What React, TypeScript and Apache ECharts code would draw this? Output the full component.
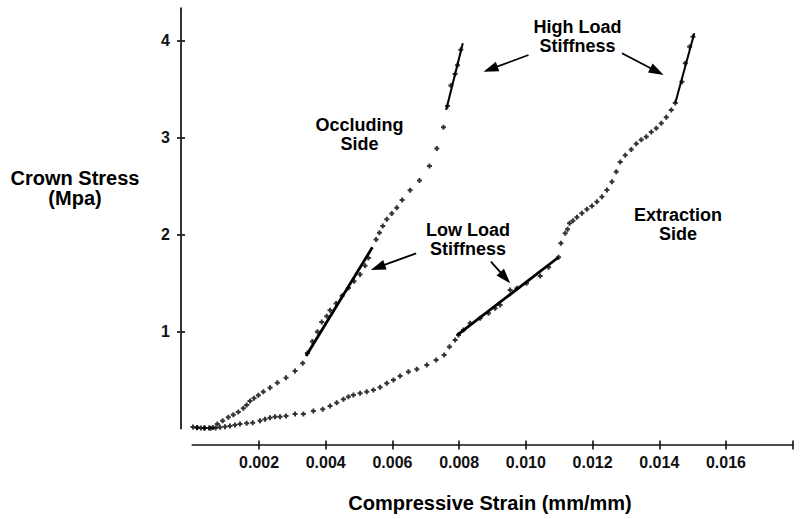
import React, { useEffect, useRef } from "react";
import * as echarts from "echarts";

// ---- data (strain in mm/mm, stress in MPa) ----
const occludingStrain = [0.00002, 0.00014, 0.00026, 0.00038, 0.0005, 0.00062, 0.00075, 0.00091, 0.00108, 0.00123, 0.00138, 0.00153, 0.00163, 0.00173, 0.00185, 0.00198, 0.00213, 0.00233, 0.00255, 0.00281, 0.00308, 0.00331, 0.00345, 0.0036, 0.00375, 0.00388, 0.00403, 0.00413, 0.00431, 0.00449, 0.00468, 0.00485, 0.00503, 0.00518, 0.00528, 0.00551, 0.00561, 0.00571, 0.00583, 0.00598, 0.00613, 0.00629, 0.00653, 0.00681, 0.00711, 0.00733, 0.00753, 0.00765, 0.00775, 0.00788, 0.00795, 0.00805];
const occludingStress = [0.017, 0.01, 0.006, 0.006, 0.006, 0.011, 0.047, 0.082, 0.117, 0.143, 0.171, 0.209, 0.244, 0.285, 0.313, 0.344, 0.381, 0.422, 0.474, 0.525, 0.594, 0.674, 0.78, 0.9, 1.0, 1.1, 1.16, 1.22, 1.29, 1.37, 1.45, 1.52, 1.59, 1.68, 1.76, 1.95, 2.02, 2.09, 2.16, 2.22, 2.28, 2.36, 2.46, 2.56, 2.71, 2.89, 3.11, 3.33, 3.54, 3.66, 3.75, 3.91];

const extractionStrain = [0.00015, 0.00035, 0.00055, 0.0007, 0.00083, 0.00098, 0.00113, 0.00128, 0.00143, 0.00163, 0.00181, 0.00203, 0.00218, 0.00233, 0.00248, 0.00263, 0.00281, 0.00308, 0.00333, 0.00363, 0.00391, 0.00413, 0.00433, 0.00453, 0.00468, 0.00483, 0.00503, 0.00523, 0.00543, 0.00563, 0.00583, 0.00603, 0.00623, 0.00648, 0.00673, 0.00703, 0.00731, 0.00755, 0.00771, 0.00788, 0.00798, 0.00813, 0.00833, 0.00863, 0.00888, 0.00908, 0.00923, 0.00953, 0.00973, 0.01002, 0.01043, 0.01068, 0.01098, 0.01105, 0.01118, 0.01125, 0.01131, 0.01141, 0.01153, 0.01168, 0.01183, 0.01198, 0.01213, 0.01228, 0.01243, 0.01258, 0.01271, 0.01283, 0.01298, 0.01316, 0.01331, 0.01346, 0.01361, 0.01376, 0.01391, 0.01406, 0.01421, 0.01436, 0.01448, 0.01468, 0.01478, 0.01491, 0.01501];
const extractionStress = [0.012, 0.006, 0.004, 0.006, 0.013, 0.02, 0.027, 0.037, 0.047, 0.055, 0.061, 0.082, 0.096, 0.112, 0.123, 0.123, 0.13, 0.151, 0.151, 0.182, 0.199, 0.233, 0.267, 0.302, 0.329, 0.347, 0.364, 0.381, 0.398, 0.426, 0.467, 0.502, 0.543, 0.587, 0.612, 0.656, 0.708, 0.759, 0.845, 0.914, 0.966, 1.018, 1.087, 1.138, 1.19, 1.241, 1.276, 1.43, 1.448, 1.5, 1.575, 1.665, 1.768, 1.912, 2.015, 2.057, 2.119, 2.146, 2.181, 2.222, 2.263, 2.297, 2.342, 2.393, 2.462, 2.548, 2.65, 2.75, 2.82, 2.88, 2.94, 2.98, 3.012, 3.06, 3.099, 3.15, 3.213, 3.288, 3.36, 3.58, 3.77, 3.94, 4.044];

// stiffness fit lines [x1, y1, x2, y2]
const occludingLowLoad = [0.00341, 0.749, 0.0054, 1.871];
const occludingHighLoad = [0.00761, 3.288, 0.00811, 3.976];
const extractionLowLoad = [0.00795, 0.966, 0.01098, 1.768];
const extractionHighLoad = [0.01448, 3.36, 0.01505, 4.08];

// annotation arrows [tailX, tailY, tipX, tipY]
const arrows = [
  [0.00671, 1.809, 0.005352, 1.637],
  [0.008953, 1.722, 0.009532, 1.4995],
  [0.01008, 3.855, 0.00873, 3.683],
  [0.012883, 3.873, 0.014131, 3.649],
];

const xTickMarks = [0.002, 0.004, 0.006, 0.008, 0.01, 0.012, 0.014, 0.016, 0.018];
const xTickLabels = [0.002, 0.004, 0.006, 0.008, 0.01, 0.012, 0.014, 0.016];
const yTickValues = [1, 2, 3, 4];

const FONT = "'Liberation Sans', Arial, Helvetica, sans-serif";
const NARROW = "'Liberation Sans Narrow', 'Liberation Sans', Arial, sans-serif";
const PLUS = "path://M1.5,0H3.5V1.5H5V3.5H3.5V5H1.5V3.5H0V1.5H1.5Z";

const zip = (a: number[], b: number[]) => a.map((v, i) => [v, b[i]]);
const seg = (s: number[]) => [[s[0], s[1]], [s[2], s[3]]];

export default function App() {
  const ref = useRef<HTMLDivElement>(null);
  useEffect(() => {
    if (!ref.current) return;
    const chart = echarts.init(ref.current, undefined, { renderer: "svg" });
    const xMin = 0, xMax = 0.018, yMin = 0, yMax = 4.337;
    const fitLine = (s: number[], w = 2.8) => ({
      type: "line",
      data: seg(s),
      showSymbol: false,
      symbol: "none",
      z: 3,
      lineStyle: { color: "#000", width: w },
    });
    const text = (t: string, x: number, y: number, size: number, lh: number) => ({
      type: "text",
      x,
      y,
      style: {
        text: t,
        fontFamily: FONT,
        fontWeight: "bold",
        fontSize: size,
        lineHeight: lh,
        fill: "#000",
        align: "center",
        verticalAlign: "middle",
      },
    });
    const tickLabel = {
      fontFamily: NARROW,
      fontWeight: "bold",
      fontSize: 16,
      color: "#111",
    };
    chart.setOption({
      animation: false,
      backgroundColor: "#fff",
      grid: { left: 192.3, right: 7.3, top: 8.3, bottom: 90.4 },
      xAxis: [
        {
          type: "value",
          min: xMin,
          max: xMax,
          interval: 0.002,
          offset: 16.4,
          axisLine: { show: true, onZero: false, lineStyle: { color: "#111", width: 1.6 } },
          axisTick: { show: true, length: 4.5, customValues: xTickMarks, lineStyle: { color: "#111", width: 1.6 } },
          axisLabel: {
            customValues: xTickLabels,
            formatter: (v: number) => v.toFixed(3),
            margin: 9,
            ...tickLabel,
          },
          splitLine: { show: false },
        },
        {
          type: "value",
          min: xMin,
          max: xMax,
          interval: 0.002,
          position: "bottom",
          offset: 16.4,
          axisLine: { show: false, onZero: false },
          axisTick: { show: true, inside: true, length: 4.5, customValues: xTickMarks, lineStyle: { color: "#111", width: 1.6 } },
          axisLabel: { show: false },
          splitLine: { show: false },
        },
      ],
      yAxis: [
        {
          type: "value",
          min: yMin,
          max: yMax,
          interval: 1,
          offset: 11.3,
          axisLine: { show: true, onZero: false, lineStyle: { color: "#333", width: 2 } },
          axisTick: { show: true, length: 4, customValues: yTickValues, lineStyle: { color: "#222", width: 1.8 } },
          axisLabel: {
            customValues: yTickValues,
            margin: 11,
            ...tickLabel,
          },
          splitLine: { show: false },
        },
        {
          type: "value",
          min: yMin,
          max: yMax,
          interval: 1,
          position: "left",
          offset: 11.3,
          axisLine: { show: false, onZero: false },
          axisTick: { show: true, inside: true, length: 4, customValues: yTickValues, lineStyle: { color: "#222", width: 1.8 } },
          axisLabel: { show: false },
          splitLine: { show: false },
        },
      ],
      series: [
        {
          type: "scatter",
          data: zip(occludingStrain, occludingStress),
          symbol: PLUS,
          symbolSize: 5,
          itemStyle: { color: "#000" },
          z: 2,
        },
        {
          type: "scatter",
          data: zip(extractionStrain, extractionStress),
          symbol: PLUS,
          symbolSize: 5,
          itemStyle: { color: "#000" },
          z: 2,
        },
        fitLine(occludingLowLoad),
        fitLine(occludingHighLoad, 2),
        fitLine(extractionLowLoad),
        fitLine(extractionHighLoad, 2),
        {
          type: "custom",
          data: arrows,
          encode: { x: [0, 2], y: [1, 3] },
          z: 4,
          renderItem: (_p: any, api: any) => {
            const a = api.coord([api.value(0), api.value(1)]);
            const b = api.coord([api.value(2), api.value(3)]);
            const dx = b[0] - a[0], dy = b[1] - a[1];
            const len = Math.sqrt(dx * dx + dy * dy);
            const ux = dx / len, uy = dy / len;
            const hl = 15, hw = 10;
            const bx = b[0] - ux * hl, by = b[1] - uy * hl;
            const nx = -uy, ny = ux;
            return {
              type: "group",
              children: [
                {
                  type: "line",
                  shape: { x1: a[0], y1: a[1], x2: bx + ux * 2, y2: by + uy * 2 },
                  style: { stroke: "#000", lineWidth: 1.8 },
                },
                {
                  type: "polygon",
                  shape: {
                    points: [
                      [b[0], b[1]],
                      [bx + nx * hw / 2, by + ny * hw / 2],
                      [bx - nx * hw / 2, by - ny * hw / 2],
                    ],
                  },
                  style: { fill: "#000" },
                },
              ],
            };
          },
        },
      ],
      graphic: [
        text("Crown Stress\n(Mpa)", 75, 188, 20, 20),
        text("Compressive Strain (mm/mm)", 490, 502.5, 20, 22),
        text("High Load\nStiffness", 577.5, 36.3, 18, 19),
        text("Occluding\nSide", 359.4, 134.2, 18, 19),
        text("Low Load\nStiffness", 468, 239, 18, 19),
        text("Extraction\nSide", 678, 224.4, 18, 19),
      ],
    });
    return () => chart.dispose();
  }, []);
  return <div ref={ref} style={{ position: "absolute", left: 0, top: 0, width: 800, height: 519 }} />;
}
